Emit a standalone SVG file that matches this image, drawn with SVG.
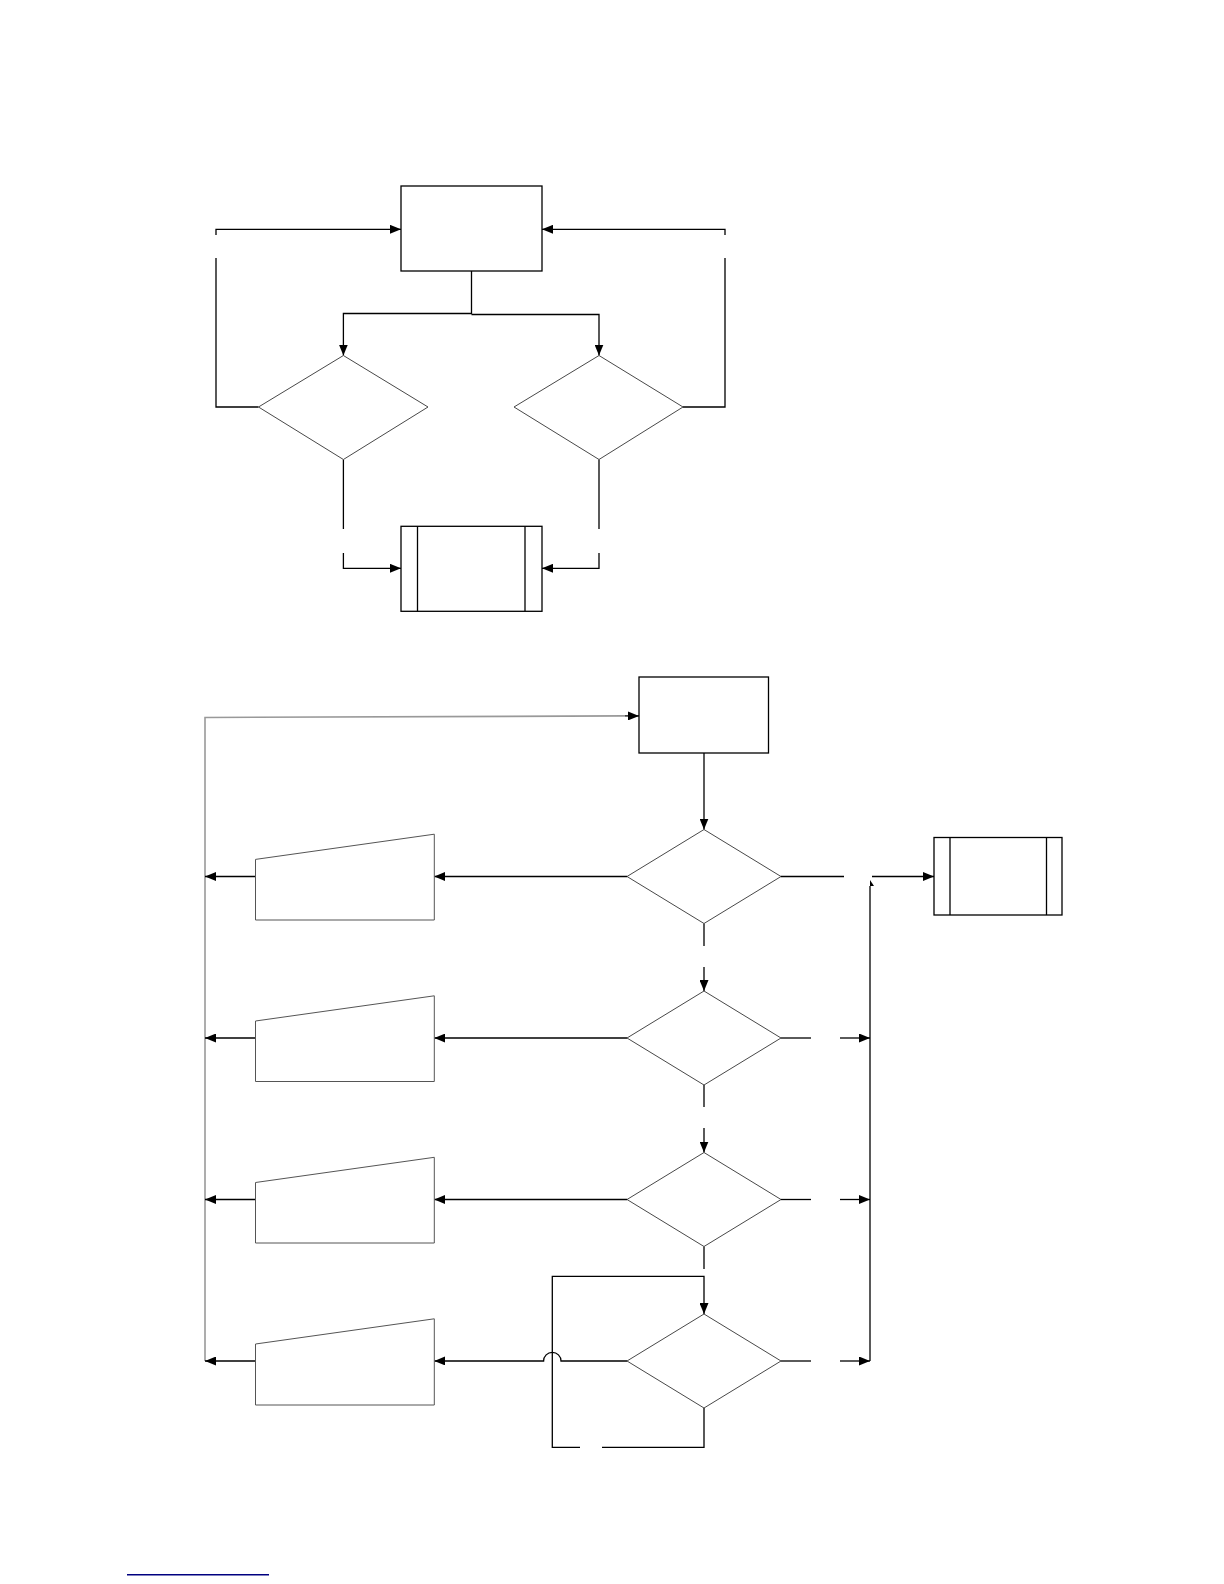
<svg xmlns="http://www.w3.org/2000/svg" width="1224" height="1584" viewBox="0 0 1224 1584">
<style>
.box{fill:#fff;stroke:#000;stroke-width:1.3}
.dia{fill:#fff;stroke:#333;stroke-width:0.9}
.trap{fill:#fff;stroke:#555;stroke-width:1}
.ln{fill:none;stroke:#000;stroke-width:1.3}
.gray{fill:none;stroke:#999;stroke-width:1.6}
</style>
<defs>
<marker id="ah" markerUnits="userSpaceOnUse" markerWidth="11" markerHeight="9" refX="11" refY="4.5" orient="auto">
<path d="M0,0 L11,4.5 L0,9 z" fill="#000"/>
</marker>
</defs>
<rect width="1224" height="1584" fill="#fff"/>
<g id="connectors">
<path class="ln" d="M258.5,407 H216 V258"/>
<path class="ln" d="M216,235 V229.3 H401" marker-end="url(#ah)"/>
<path class="ln" d="M683,407 H725 V258"/>
<path class="ln" d="M725,235 V229.3 H542" marker-end="url(#ah)"/>
<path class="ln" d="M471.5,271 V313.5 H343.4 V355.5" marker-end="url(#ah)"/>
<path class="ln" d="M471.5,314.5 H599 V355.5" marker-end="url(#ah)"/>
<path class="ln" d="M343.4,459.5 V529"/>
<path class="ln" d="M343.4,553 V568.3 H401" marker-end="url(#ah)"/>
<path class="ln" d="M599,459.5 V529"/>
<path class="ln" d="M599,553 V568.3 H542" marker-end="url(#ah)"/>
<path class="gray" d="M205,1361 V717.5 L625,715.9"/>
<path class="ln" d="M625,715.9 H639" marker-end="url(#ah)"/>
<path class="ln" d="M704,753 V829.5" marker-end="url(#ah)"/>
<path class="ln" d="M704,923.5 V946"/>
<path class="ln" d="M704,967 V991" marker-end="url(#ah)"/>
<path class="ln" d="M704,1085 V1107"/>
<path class="ln" d="M704,1128 V1152.5" marker-end="url(#ah)"/>
<path class="ln" d="M704,1246.5 V1269"/>
<path class="ln" d="M704,1408 V1447.3 H602"/>
<path class="ln" d="M580,1447.3 H552.3 V1276.3 H704 V1314" marker-end="url(#ah)"/>
<path class="ln" d="M627,876.5 H434.3" marker-end="url(#ah)"/>
<path class="ln" d="M627,1038 H434.3" marker-end="url(#ah)"/>
<path class="ln" d="M627,1199.5 H434.3" marker-end="url(#ah)"/>
<path class="ln" d="M627,1361 H561 A8.7,8.7 0 0 0 543.6,1361 H434.3" marker-end="url(#ah)"/>
<path class="ln" d="M255.5,876.5 H205" marker-end="url(#ah)"/>
<path class="ln" d="M255.5,1038 H205" marker-end="url(#ah)"/>
<path class="ln" d="M255.5,1199.5 H205" marker-end="url(#ah)"/>
<path class="ln" d="M255.5,1361 H205" marker-end="url(#ah)"/>
<path class="ln" d="M781,876.5 H844"/>
<path class="ln" d="M872,876.5 H934" marker-end="url(#ah)"/>
<path class="ln" d="M870,1361 V886"/>
<polygon points="870,880 874,886 870,886" fill="#000"/>
<path class="ln" d="M781,1038 H811"/>
<path class="ln" d="M840,1038 H870" marker-end="url(#ah)"/>
<path class="ln" d="M781,1199.5 H811"/>
<path class="ln" d="M840,1199.5 H870" marker-end="url(#ah)"/>
<path class="ln" d="M781,1361 H811"/>
<path class="ln" d="M840,1361 H870" marker-end="url(#ah)"/>
</g>
<g id="top-rect"><rect class="box" x="401" y="186" width="141" height="85"/></g>
<g id="top-left-decision"><polygon class="dia" points="343.4,355.5 428,407 343.4,459.5 258.5,407"/></g>
<g id="top-right-decision"><polygon class="dia" points="599,355.5 683,407 599,459.5 514,407"/></g>
<g id="top-subprocess">
<rect class="box" x="401" y="526.3" width="141" height="85"/>
<line class="ln" x1="417.5" y1="526.3" x2="417.5" y2="611.3"/>
<line class="ln" x1="525" y1="526.3" x2="525" y2="611.3"/>
</g>
<g id="bottom-rect"><rect class="box" x="639" y="677" width="129.5" height="76"/></g>
<g id="decision-1"><polygon class="dia" points="704,829.5 781,876.5 704,923.5 627,876.5"/></g>
<g id="decision-2"><polygon class="dia" points="704,991 781,1038 704,1085 627,1038"/></g>
<g id="decision-3"><polygon class="dia" points="704,1152.5 781,1199.5 704,1246.5 627,1199.5"/></g>
<g id="decision-4"><polygon class="dia" points="704,1314 781,1361 704,1408 627,1361"/></g>
<g id="input-1"><polygon class="trap" points="255.5,859.4 434.3,834.2 434.3,920 255.5,920"/></g>
<g id="input-2"><polygon class="trap" points="255.5,1021 434.3,995.8 434.3,1081.5 255.5,1081.5"/></g>
<g id="input-3"><polygon class="trap" points="255.5,1182.5 434.3,1157.3 434.3,1243 255.5,1243"/></g>
<g id="input-4"><polygon class="trap" points="255.5,1344 434.3,1318.8 434.3,1405 255.5,1405"/></g>
<g id="right-subprocess">
<rect class="box" x="934" y="837.5" width="128" height="77.5"/>
<line class="ln" x1="950" y1="837.5" x2="950" y2="915"/>
<line class="ln" x1="1046.5" y1="837.5" x2="1046.5" y2="915"/>
</g>
<line x1="127" y1="1574.7" x2="269" y2="1574.7" stroke="#000080" stroke-width="1.5"/>
</svg>
